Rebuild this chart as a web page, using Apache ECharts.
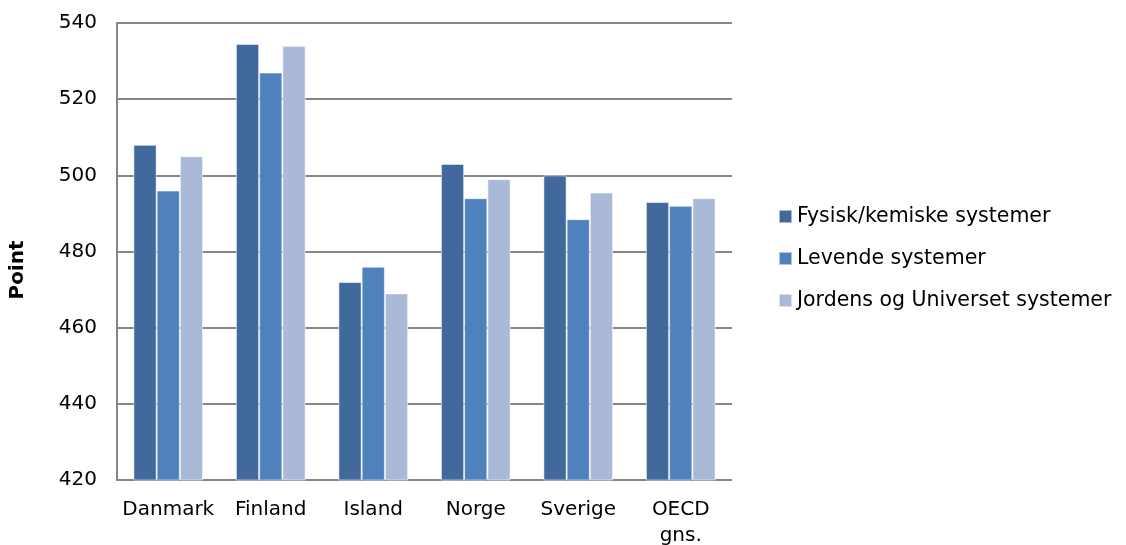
<!DOCTYPE html>
<html>
<head>
<meta charset="utf-8">
<script src="https://cdn.jsdelivr.net/npm/echarts@6/dist/echarts.min.js"></script>
<style>
  html, body { margin: 0; padding: 0; background: #fff; }
  #chart { width: 1126px; height: 545px; }
</style>
</head>
<body>
<div id="chart"></div>
<script>
// kategorier og serier
const categories = ['Danmark', 'Finland', 'Island', 'Norge', 'Sverige', 'OECD\ngns.']
const seriesNames = ['Fysisk/kemiske systemer', 'Levende systemer', 'Jordens og Universet systemer']
const fysisk = [508, 534.5, 472, 503, 500, 493]
const levende = [496, 527, 476, 494, 488.5, 492]
const jordens = [505, 534, 469, 499, 495.5, 494]
const colors = ['#41699B', '#4F81BD', '#AAB9D7']

const chart = echarts.init(document.getElementById('chart'))

const barStyle = {
  borderColor: 'rgba(255,255,255,0.55)',
  borderWidth: 1
}

chart.setOption({
  animation: false,
  color: colors,
  grid: {
    left: 117,
    right: 394,
    top: 23,
    bottom: 65,
    outerBoundsMode: 'none'
  },
  legend: {
    orient: 'vertical',
    left: 778,
    top: 206,
    padding: 0,
    itemWidth: 13,
    itemHeight: 13,
    itemGap: 21,
    icon: 'rect',
    textStyle: {
      fontFamily: 'DejaVu Sans',
      fontSize: 20.5,
      color: '#000'
    },
    data: seriesNames
  },
  xAxis: {
    type: 'category',
    data: categories,
    axisLine: { show: false },
    axisTick: { show: false },
    axisLabel: {
      interval: 0,
      margin: 17,
      fontFamily: 'DejaVu Sans',
      fontSize: 20,
      color: '#000',
      lineHeight: 26
    }
  },
  yAxis: {
    type: 'value',
    min: 420,
    max: 540,
    interval: 20,
    axisLine: { show: true, lineStyle: { color: '#868686', width: 2 } },
    axisTick: { show: false },
    splitLine: { lineStyle: { color: '#868686', width: 2 } },
    axisLabel: {
      margin: 20,
      fontFamily: 'DejaVu Sans',
      fontSize: 20,
      color: '#000'
    }
  },
  graphic: [{
    type: 'text',
    x: 18,
    y: 270,
    rotation: Math.PI / 2,
    style: {
      text: 'Point',
      font: 'bold 20px "DejaVu Sans"',
      fill: '#000',
      align: 'center',
      verticalAlign: 'middle'
    }
  }],
  series: [
    { name: seriesNames[0], type: 'bar', data: fysisk, barGap: '0%', barCategoryGap: '32%', itemStyle: barStyle },
    { name: seriesNames[1], type: 'bar', data: levende, itemStyle: barStyle },
    { name: seriesNames[2], type: 'bar', data: jordens, itemStyle: barStyle }
  ]
})
</script>
</body>
</html>
